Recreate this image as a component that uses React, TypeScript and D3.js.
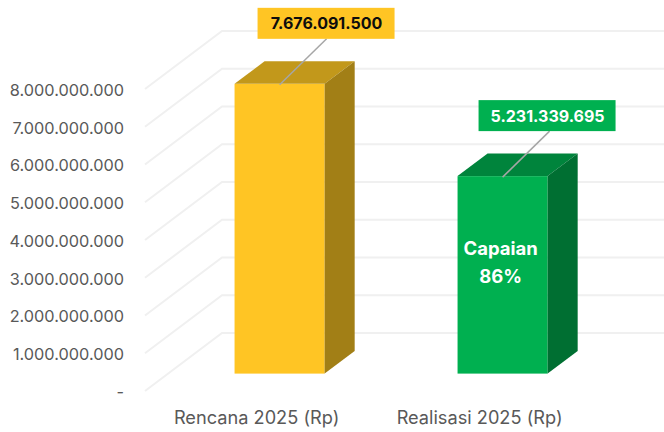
import React from 'react';
import * as d3 from 'd3';

const categories = ['Rencana 2025 (Rp)', 'Realisasi 2025 (Rp)'];
const values = [7676091500, 5231339695];
const valueLabels = ['7.676.091.500', '5.231.339.695'];
const tickValues = [0, 1e9, 2e9, 3e9, 4e9, 5e9, 6e9, 7e9, 8e9];
const tickLabels = ['-', '1.000.000.000', '2.000.000.000', '3.000.000.000', '4.000.000.000', '5.000.000.000', '6.000.000.000', '7.000.000.000', '8.000.000.000'];
const frontColors = ['#ffc524', '#00b050'];
const topColors = ['#c2981b', '#00843c'];
const sideColors = ['#a27f16', '#006f32'];
const labelTextColors = ['#0d0d0d', '#ffffff'];
const capaianLines = ['Capaian', '86%'];

const width = 664;
const height = 432;
const font = 'Inter, sans-serif';

// oblique projection of the 3D chart: floor depth in screen px
const depthX = 77;
const depthY = 58;
const barNear = 0.30; // fraction of depth where the front face of a bar sits
const barFar = 0.69;
const boxOffsets = [23, 21]; // data label box, from the bar's left edge

const y = d3.scaleLinear().domain([0, 8e9]).range([391, 89]);
const x = d3.scaleBand().domain(categories).range([145, 591]).paddingInner(0.596).paddingOuter(0.298);

const path = d3.line();

export default function App() {
  const nearX = depthX * barNear;
  const nearY = depthY * barNear;
  const farX = depthX * barFar;
  const farY = depthY * barFar;
  const bw = x.bandwidth();

  return (
    <svg width={width} height={height} style={{ position: 'absolute', left: 0, top: 0, background: '#fff' }}>
      {/* walls */}
      {tickValues.map((t, i) => (
        <g key={t}>
          <path
            d={path([[145, y(t)], [145 + depthX, y(t) - depthY], [width, y(t) - depthY]]) as string}
            fill="none"
            stroke="#f0f0f0"
            strokeWidth={2}
          />
          <text x={124} y={y(t)} dy="0.42em" textAnchor="end" fontFamily={font} fontSize={16.3} fill="#595959">
            {tickLabels[i]}
          </text>
        </g>
      ))}

      {/* bars */}
      {categories.map((c, i) => {
        const x0 = (x(c) as number) + nearX;
        const x1 = x0 + bw;
        const top = y(values[i]) - nearY;
        const bottom = y(0) - nearY;
        const dx = farX - nearX;
        const dy = farY - nearY;
        const anchorX = x0 + bw / 2;
        const boxX = x0 + boxOffsets[i];
        const boxY = top - 76;
        return (
          <g key={c}>
            <rect x={x0} y={top} width={bw} height={bottom - top} fill={frontColors[i]} />
            <path
              d={path([[x0, top], [x0 + dx, top - dy], [x1 + dx, top - dy], [x1, top]]) + 'Z'}
              fill={topColors[i]}
            />
            <path
              d={path([[x1, top], [x1 + dx, top - dy], [x1 + dx, bottom - dy], [x1, bottom]]) + 'Z'}
              fill={sideColors[i]}
            />
            <line x1={anchorX} y1={top + 1} x2={anchorX + 47} y2={boxY + 31} stroke="#a6a6a6" strokeWidth={1.5} />
            <rect x={boxX} y={boxY} width={137} height={31} fill={frontColors[i]} />
            <text
              x={boxX + 69}
              y={boxY + 15.5}
              dy="0.38em"
              textAnchor="middle"
              fontFamily={font}
              fontWeight={700}
              fontSize={16}
              fill={labelTextColors[i]}
            >
              {valueLabels[i]}
            </text>
            <text
              x={anchorX - 23}
              y={y(0) + 26.5}
              dy="0.35em"
              textAnchor="middle"
              fontFamily={font}
              fontSize={18.2}
              fill="#595959"
            >
              {c}
            </text>
          </g>
        );
      })}

      {/* note on the green bar */}
      {capaianLines.map((line, i) => (
        <text
          key={line}
          x={(x(categories[1]) as number) + nearX + bw / 2 - 2}
          y={249 + i * 28}
          dy="0.35em"
          textAnchor="middle"
          fontFamily={font}
          fontWeight={700}
          fontSize={18.5}
          fill="#ffffff"
        >
          {line}
        </text>
      ))}
    </svg>
  );
}
